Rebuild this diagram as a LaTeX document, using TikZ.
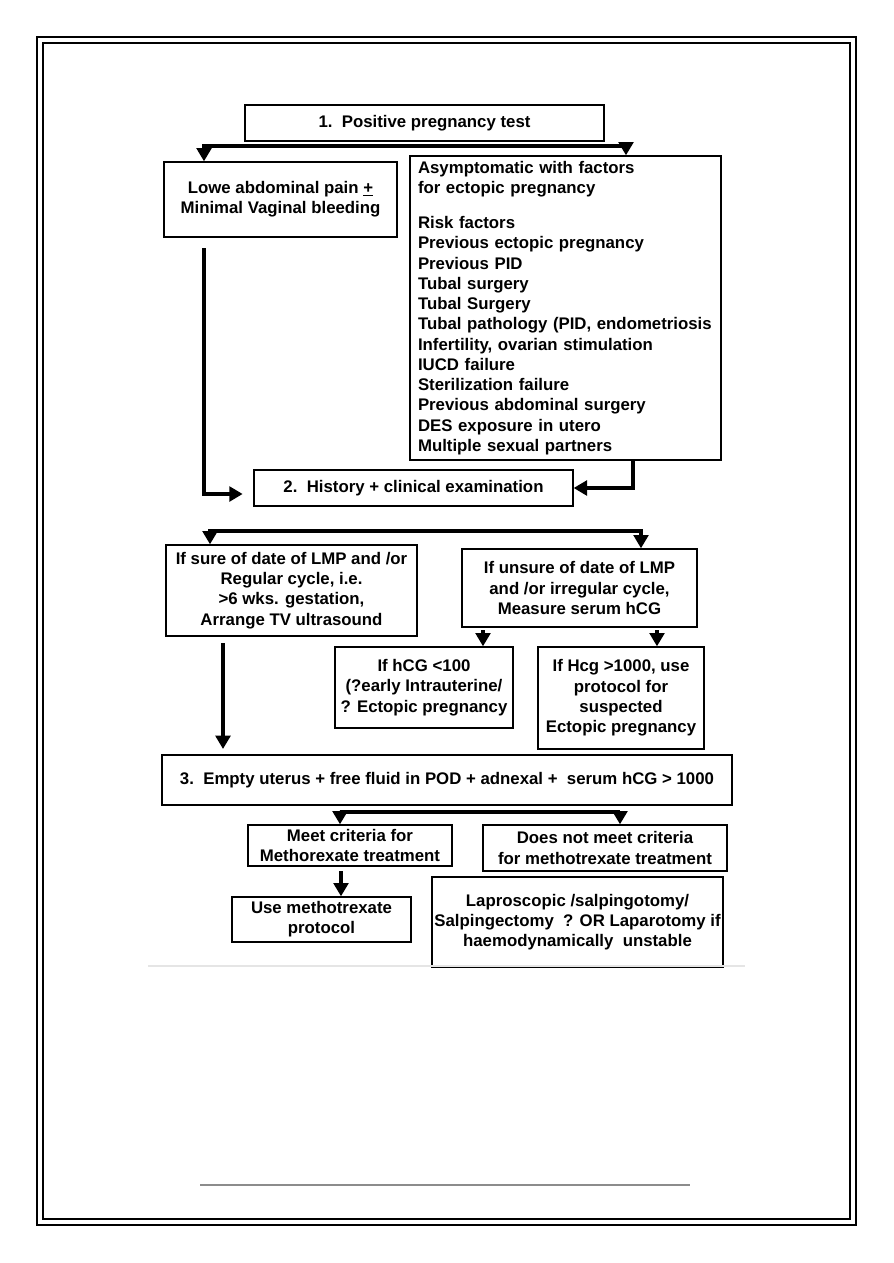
\documentclass[tikz,border=0pt]{standalone}
\usepackage{fontspec}
\setmainfont{Liberation Sans}
\usetikzlibrary{arrows.meta}
\begin{document}
\begin{tikzpicture}[x=0.75pt, y=-0.75pt,
    every node/.style={font=\fontsize{12.6}{15.2}\selectfont\bfseries, align=center, inner sep=0pt},
    box/.style 2 args={draw, line width=1pt, minimum width=#1*0.75pt, minimum height=#2*0.75pt},
    link/.style={line width=3.4pt},
    arr/.style={link, -{Triangle[width=11pt,length=10pt]}}]
    \useasboundingbox (0,0) rectangle (893,1263);
    \draw[line width=2.2pt] (37,37) rectangle (856,1225);
    \draw[line width=1.1pt] (43,43) rectangle (850,1219);
    \node[box={359}{36}] (test) at (424.5,123) {1.~~Positive pregnancy test};
    \node[box={233}{75}] (pain) at (280.5,199.5) {Lowe abdominal pain \underline{+}\\Minimal Vaginal bleeding};
    \node[box={311}{304}, align=left, text width=221.25pt] (risk) at (565.5,308) {Asymptomatic with factors\\for ectopic pregnancy\\[11pt]Risk factors\\Previous ectopic pregnancy\\Previous PID\\Tubal surgery\\Tubal Surgery\\Tubal pathology (PID, endometriosis\\Infertility, ovarian stimulation\\IUCD failure\\Sterilization failure\\Previous abdominal surgery\\DES exposure in utero\\Multiple sexual partners};
    \node[box={319}{36}] (hist) at (413.5,488) {2.~~History + clinical examination};
    \node[box={251}{91}] (sure) at (291.5,590.5) {If sure of date of LMP and /or\\Regular cycle, i.e.\\>6 wks. gestation,\\Arrange TV ultrasound};
    \node[box={235}{78}] (unsure) at (579.5,588) {If unsure of date of LMP\\and /or irregular cycle,\\Measure serum hCG};
    \node[box={178}{81}] (low) at (424,687.5) {If hCG <100\\(?early Intrauterine/\\? Ectopic pregnancy};
    \node[box={166}{102}] (high) at (621,698) {If Hcg >1000, use\\protocol for\\suspected\\Ectopic pregnancy};
    \node[box={570}{50}] (empty) at (447,780) {3.~~Empty uterus + free fluid in POD + adnexal +~~serum hCG > 1000};
    \node[box={204}{41}] (meet) at (350,845.5) {Meet criteria for\\Methorexate treatment};
    \node[box={244}{46}] (notmeet) at (605,848) {Does not meet criteria\\for methotrexate treatment};
    \node[box={179}{45}] (usemtx) at (321.5,919.5) {Use methotrexate\\protocol};
    \node[box={291}{90}] (lapro) at (577.5,922) {Laproscopic /salpingotomy/\\Salpingectomy~~? OR Laparotomy if\\haemodynamically~~unstable};
    \coordinate (a1) at (204,146);
    \coordinate (a2) at (626,146);
    \draw[arr] (a2) -| (a1 |- pain.north);
    \draw[arr] (a1) -| (a2 |- risk.north);
    \coordinate (b1) at (204,248);
    \coordinate (b2) at (633,460);
    \draw[arr, shorten >=8pt] (b1) |- ([yshift=-4.5pt]hist.west);
    \draw[arr] (b2) |- (hist.east);
    \coordinate (c1) at (210,531);
    \coordinate (c2) at (641,531);
    \draw[arr] (c2) -| (c1 |- sure.north);
    \draw[arr] (c1) -| (c2 |- unsure.north);
    \coordinate (d1) at (483,630);
    \coordinate (d2) at (657,630);
    \draw[arr] (d1) -- (d1 |- low.north);
    \draw[arr] (d2) -- (d2 |- high.north);
    \coordinate (e1) at (223,643);
    \draw[arr, shorten >=4pt] (e1) -- (e1 |- empty.north);
    \coordinate (f1) at (340,812);
    \coordinate (f2) at (620,812);
    \draw[arr] (f2) -| (f1 |- meet.north);
    \draw[arr] (f1) -| (f2 |- notmeet.north);
    \coordinate (g1) at (341,871);
    \draw[arr] (g1) -- (g1 |- usemtx.north);
    \draw[black!10, line width=1pt] (148,966) -- (745,966);
    \draw[black!45, line width=1pt] (200,1185) -- (690,1185);
\end{tikzpicture}
\end{document}
